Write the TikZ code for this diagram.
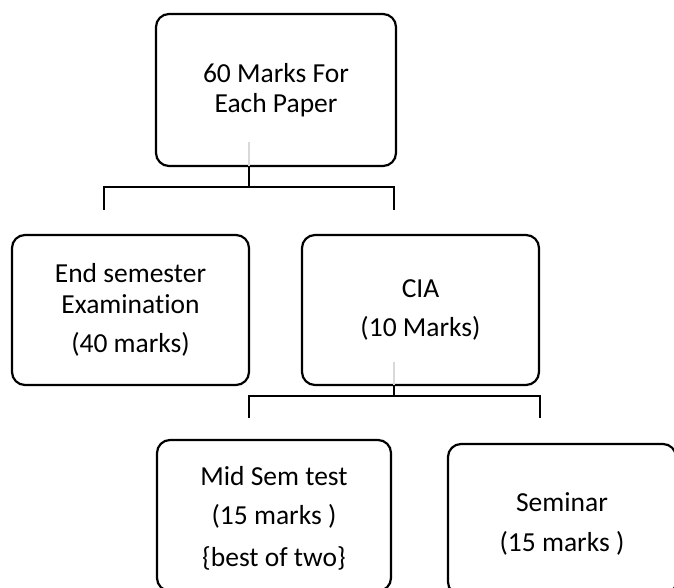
\documentclass[tikz,border=0pt]{standalone}
\usepackage{fontspec}
\setmainfont{Carlito}[Ligatures={NoCommon}]
\usetikzlibrary{calc}

\begin{document}
\begin{tikzpicture}[x=1pt, y=-1pt,
  box/.style={draw, line width=2.2pt, rounded corners=13pt, align=center,
    inner sep=0pt, outer sep=0pt, font=\fontsize{27.5}{30.5}\selectfont},
  link/.style={line width=2pt},
  stub/.style={line width=2pt, black!15}]
  \useasboundingbox (0,0) rectangle (674,588);
  % Top box
  \node[box, minimum width=240pt, minimum height=152pt] (top) at (276,90)
    {60 Marks For\\Each Paper};
  % Second row
  \node[box, minimum width=237pt, minimum height=150pt] (endsem) at (130.5,310)
    {End semester\\Examination\\[9pt](40 marks)};
  \node[box, minimum width=237pt, minimum height=150pt] (cia) at (420.5,310)
    {CIA\\[9pt](10 Marks)};
  % Third row
  \node[box, minimum width=234pt, minimum height=151pt] (midsem) at (274,515.5)
    {\rule{0pt}{24pt}Mid Sem test\\[9pt](15 marks )\\[11pt]\{best of two\}};
  \node[box, minimum width=228pt, minimum height=151pt] (seminar) at (562,519.5)
    {\rule{0pt}{28pt}Seminar\\[9pt](15 marks )};
  % Bracket under the top box
  \coordinate (topfoot) at ($(top.south)+(-27,0)$);
  \coordinate (topjoin) at ($(top.south)+(-27,21)$);
  \coordinate (endsemtip) at ($(endsem.north)+(-27,-25)$);
  \coordinate (ciatip) at ($(cia.north)+(-27,-25)$);
  \draw[stub] (topfoot) -- ++(0,-24);
  \draw[link] (topfoot) -- (topjoin);
  \draw[link] (endsemtip) |- (topjoin) -| (ciatip);
  % Bracket under CIA
  \coordinate (ciafoot) at ($(cia.south)+(-26.5,0)$);
  \coordinate (ciajoin) at ($(cia.south)+(-26.5,11)$);
  \coordinate (midsemtip) at ($(midsem.north)+(-25,-22)$);
  \coordinate (seminartip) at ($(seminar.north)+(-22.5,-26)$);
  \draw[stub] (ciafoot) -- ++(0,-23);
  \draw[link] (ciafoot) -- (ciajoin);
  \draw[link] (midsemtip) |- (ciajoin) -| (seminartip);
\end{tikzpicture}
\end{document}
